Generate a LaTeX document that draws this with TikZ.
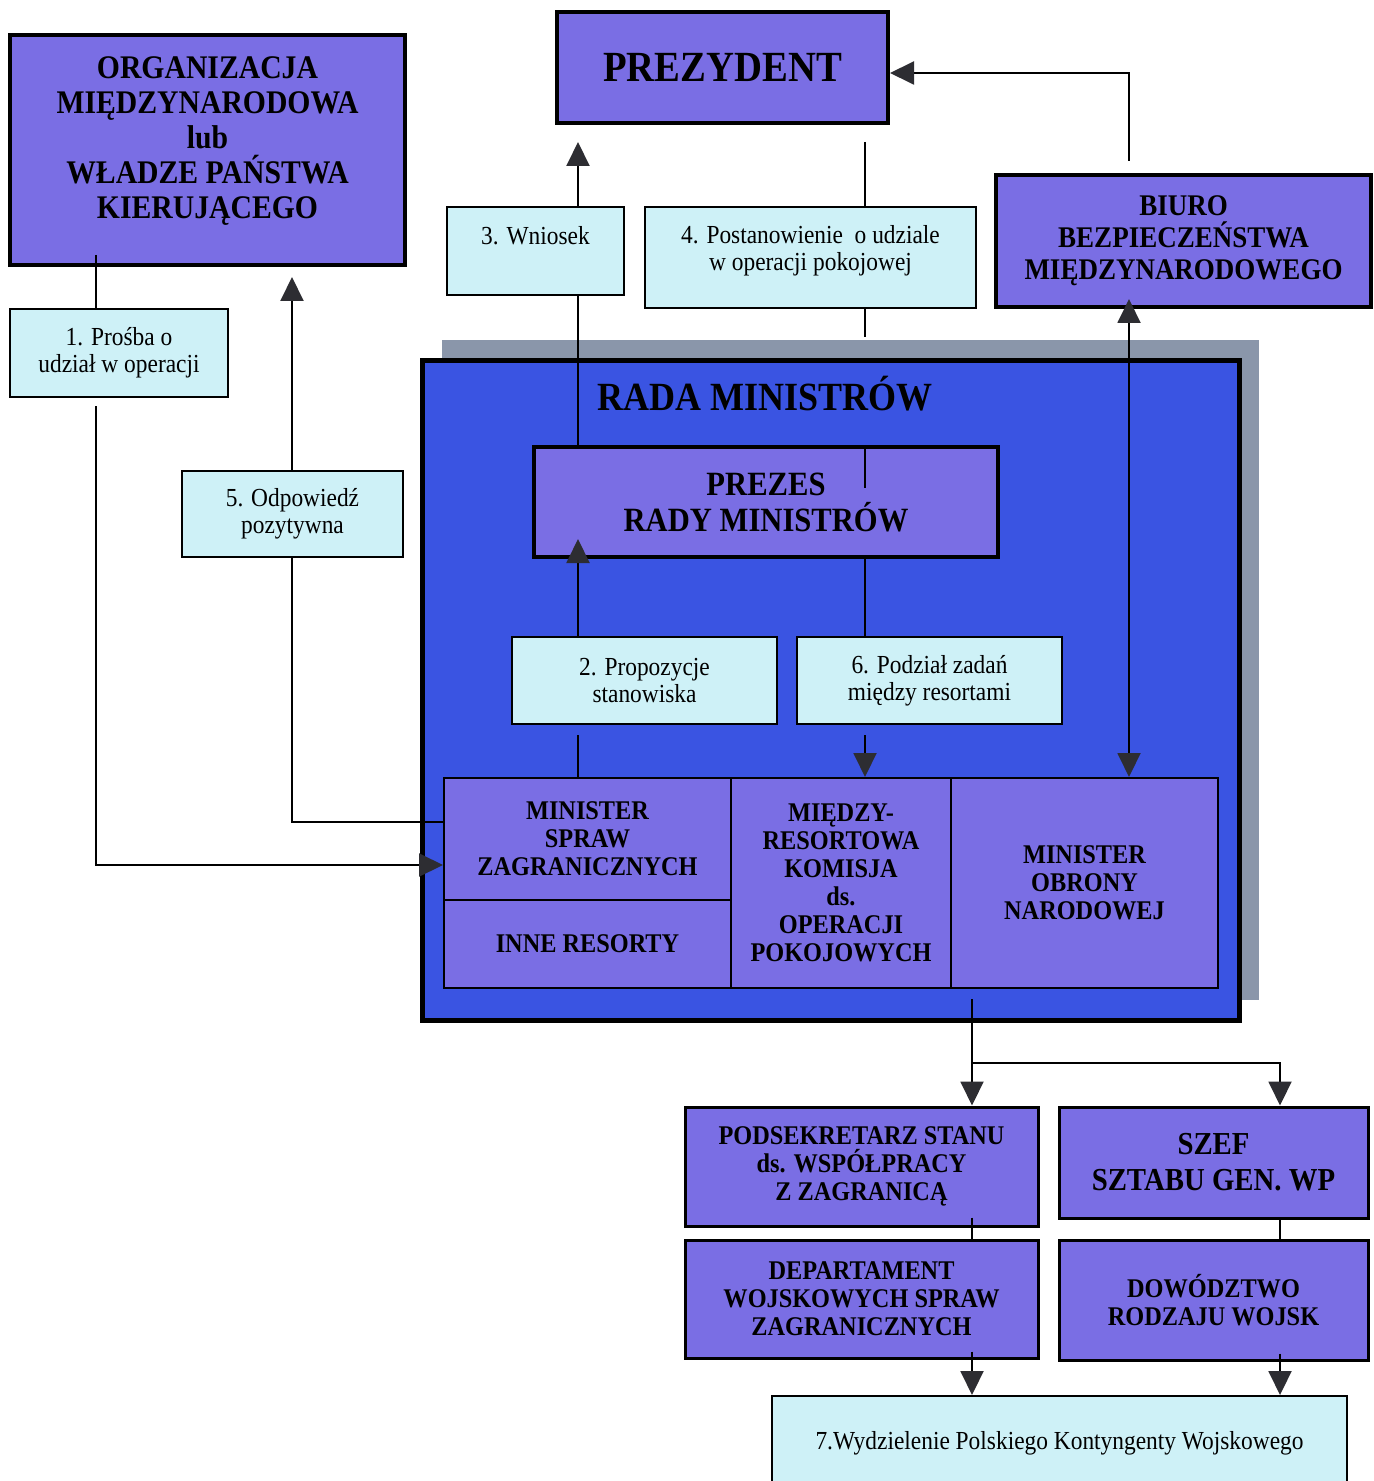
\documentclass[tikz,border=0pt]{standalone}
\usepackage{fontspec}
\setmainfont[FakeStretch=0.9]{Liberation Serif}
\usetikzlibrary{arrows.meta}
\usetikzlibrary{shadows}

\definecolor{boxviolet}{RGB}{122,110,228}
\definecolor{radablue}{RGB}{58,84,226}
\definecolor{boxcyan}{RGB}{206,241,247}
\definecolor{shadowgrey}{RGB}{138,150,170}
\definecolor{tipgrey}{RGB}{45,45,50}

\tikzset{
    darkbox/.style={draw, line width=2pt, fill=boxviolet, align=center, inner sep=2pt},
    lowbox/.style={darkbox, line width=1.5pt, font=\bfseries\fontsize{13.5}{14}\selectfont},
    gridbox/.style={draw, line width=1pt, fill=boxviolet, align=center, inner sep=2pt,
        font=\bfseries\fontsize{13.5}{14}\selectfont},
    lightbox/.style={draw, line width=1pt, fill=boxcyan, align=center, inner sep=2pt,
        font=\fontsize{13}{13.5}\selectfont},
    conn/.style={line width=1pt},
    arr/.style={conn, -{Triangle[length=12pt,width=11.5pt,color=tipgrey]}},
    dblarr/.style={conn, {Triangle[length=12pt,width=11.5pt,color=tipgrey]}-{Triangle[length=12pt,width=11.5pt,color=tipgrey]}}
}

\begin{document}
\begin{tikzpicture}[x=0.5pt, y=-0.5pt]
        \useasboundingbox (0,0) rectangle (1373,1481);
        \fill[white] (0,0) rectangle (1373,1481);

        % kolumny i wiersze polaczen
        \coordinate (xA) at (96,0);
        \coordinate (xB) at (292,0);
        \coordinate (xC) at (578,0);
        \coordinate (xD) at (865,0);
        \coordinate (xE) at (1129,0);
        \coordinate (xF) at (972,0);
        \coordinate (xG) at (1280,0);
        \coordinate (yA) at (0,865);
        \coordinate (yB) at (0,822);
        \coordinate (yC) at (0,73);
        \coordinate (yD) at (0,1063);

        % rada ministrow
        \node[draw, line width=2.5pt, fill=radablue, minimum width=408.5pt, minimum height=330pt,
            general shadow={fill=shadowgrey, shadow xshift=10pt, shadow yshift=10pt}] (rada) at (830.5,690) {};
        \node[font=\bfseries\fontsize{20}{22}\selectfont] (radatitle) at (765,394) {RADA MINISTRÓW};

        \node[darkbox, minimum width=197.5pt, minimum height=115pt, text depth=12pt, font=\bfseries\fontsize{16.5}{17.5}\selectfont] (org) at (207.5,150)
            {ORGANIZACJA\\MIĘDZYNARODOWA\\lub\\WŁADZE PAŃSTWA\\KIERUJĄCEGO};
        \node[darkbox, minimum width=165.5pt, minimum height=55.5pt, font=\bfseries\fontsize{21.5}{24}\selectfont] (prez) at (722.5,67.5) {PREZYDENT};
        \node[darkbox, minimum width=187.5pt, minimum height=66pt, font=\bfseries\fontsize{15}{16}\selectfont] (biuro) at (1183.5,241)
            {BIURO\\BEZPIECZEŃSTWA\\MIĘDZYNARODOWEGO};

        \node[lightbox, minimum width=109pt, minimum height=44pt] (b1) at (119,353) {1. Prośba o\\udział w operacji};
        \node[lightbox, minimum width=88.5pt, minimum height=44pt, text depth=16pt] (b3) at (535.5,251) {3. Wniosek};
        \node[lightbox, minimum width=165.5pt, minimum height=50.5pt, text depth=10pt] (b4) at (810.5,257.5) {4. Postanowienie\ \ o udziale\\w operacji pokojowej};
        \node[lightbox, minimum width=110.5pt, minimum height=43pt] (b5) at (292.5,514) {5. Odpowiedź\\pozytywna};

        \node[darkbox, minimum width=232pt, minimum height=55pt, font=\bfseries\fontsize{17}{18}\selectfont] (prm) at (766,502) {PREZES\\RADY MINISTRÓW};
        \node[lightbox, minimum width=132.5pt, minimum height=43.5pt] (b2) at (644.5,680.5) {2. Propozycje\\stanowiska};
        \node[lightbox, minimum width=132.5pt, minimum height=43.5pt] (b6) at (929.5,680.5) {6. Podział zadań\\między resortami};

        \node[gridbox, minimum width=143.5pt, minimum height=61pt] (msz) at (587.5,839) {MINISTER\\SPRAW\\ZAGRANICZNYCH};
        \node[gridbox, minimum width=143.5pt, minimum height=44pt] (inne) at (587.5,944) {INNE RESORTY};
        \node[gridbox, minimum width=110pt, minimum height=105pt] (mk) at (841,883) {MIĘDZY-\\RESORTOWA\\KOMISJA\\ds.\\OPERACJI\\POKOJOWYCH};
        \node[gridbox, minimum width=133.5pt, minimum height=105pt] (mon) at (1084.5,883) {MINISTER\\OBRONY\\NARODOWEJ};

        \node[lowbox, minimum width=176.5pt, minimum height=59.5pt] (pods) at (861.5,1166.5) {PODSEKRETARZ STANU\\ds. WSPÓŁPRACY\\Z ZAGRANICĄ};
        \node[lowbox, minimum width=176.5pt, minimum height=59pt] (dep) at (861.5,1299) {DEPARTAMENT\\WOJSKOWYCH SPRAW\\ZAGRANICZNYCH};
        \node[lowbox, minimum width=154.5pt, minimum height=55.5pt, font=\bfseries\fontsize{16}{18}\selectfont] (szef) at (1213.5,1162.5) {SZEF\\SZTABU GEN. WP};
        \node[lowbox, minimum width=154.5pt, minimum height=60pt] (dow) at (1213.5,1300) {DOWÓDZTWO\\RODZAJU WOJSK};
        \node[lightbox, minimum width=287.5pt, minimum height=47pt] (b7) at (1059.5,1443) {7.Wydzielenie Polskiego Kontyngenty Wojskowego};

        % polaczenia
        \draw[conn, shorten <=-6pt] (org.south -| xA) -- (b1.north -| xA);
        \draw[arr, shorten <=4pt] (b1.south -| xA) |- (msz.west |- yA);
        \draw[conn] (msz.west |- yB) -| (b5.south -| xB);
        \draw[arr, shorten >=5pt] (b5.north -| xB) -- (org.south -| xB);

        \draw[conn, shorten >=5pt] (msz.north -| xC) -- (b2.south -| xC);
        \draw[arr, shorten >=-10pt] (b2.north -| xC) -- (prm.south -| xC);
        \draw[conn] (prm.north -| xC) -- (b3.south -| xC);
        \draw[arr, shorten >=8.5pt] (b3.north -| xC) -- (prez.south -| xC);

        \draw[conn, shorten <=8.5pt] (prez.south -| xD) -- (b4.north -| xD);
        \draw[conn] (b4.south -| xD) -- ([yshift=10pt]rada.north -| xD);
        \draw[conn] (prm.north -| xD) -- ++(0,43);
        \draw[conn] (prm.south -| xD) -- (b6.north -| xD);
        \draw[arr, shorten <=5pt] (b6.south -| xD) -- (mk.north -| xD);

        \draw[arr, shorten <=6pt] (biuro.north -| xE) |- (prez.east |- yC);
        \draw[dblarr, shorten <=-5pt] (biuro.south -| xE) -- (mon.north -| xE);

        \draw[arr, shorten <=5pt] (mon.south -| xF) -- (pods.north -| xF);
        \draw[arr] (xF |- yD) -| (szef.north -| xG);
        \draw[conn, shorten <=-5pt] (pods.south -| xF) -- (dep.north -| xF);
        \draw[conn] (szef.south -| xG) -- (dow.north -| xG);
        \draw[arr, shorten <=-4pt] (dep.south -| xF) -- (b7.north -| xF);
        \draw[arr, shorten <=-4pt] (dow.south -| xG) -- (b7.north -| xG);
\end{tikzpicture}
\end{document}
